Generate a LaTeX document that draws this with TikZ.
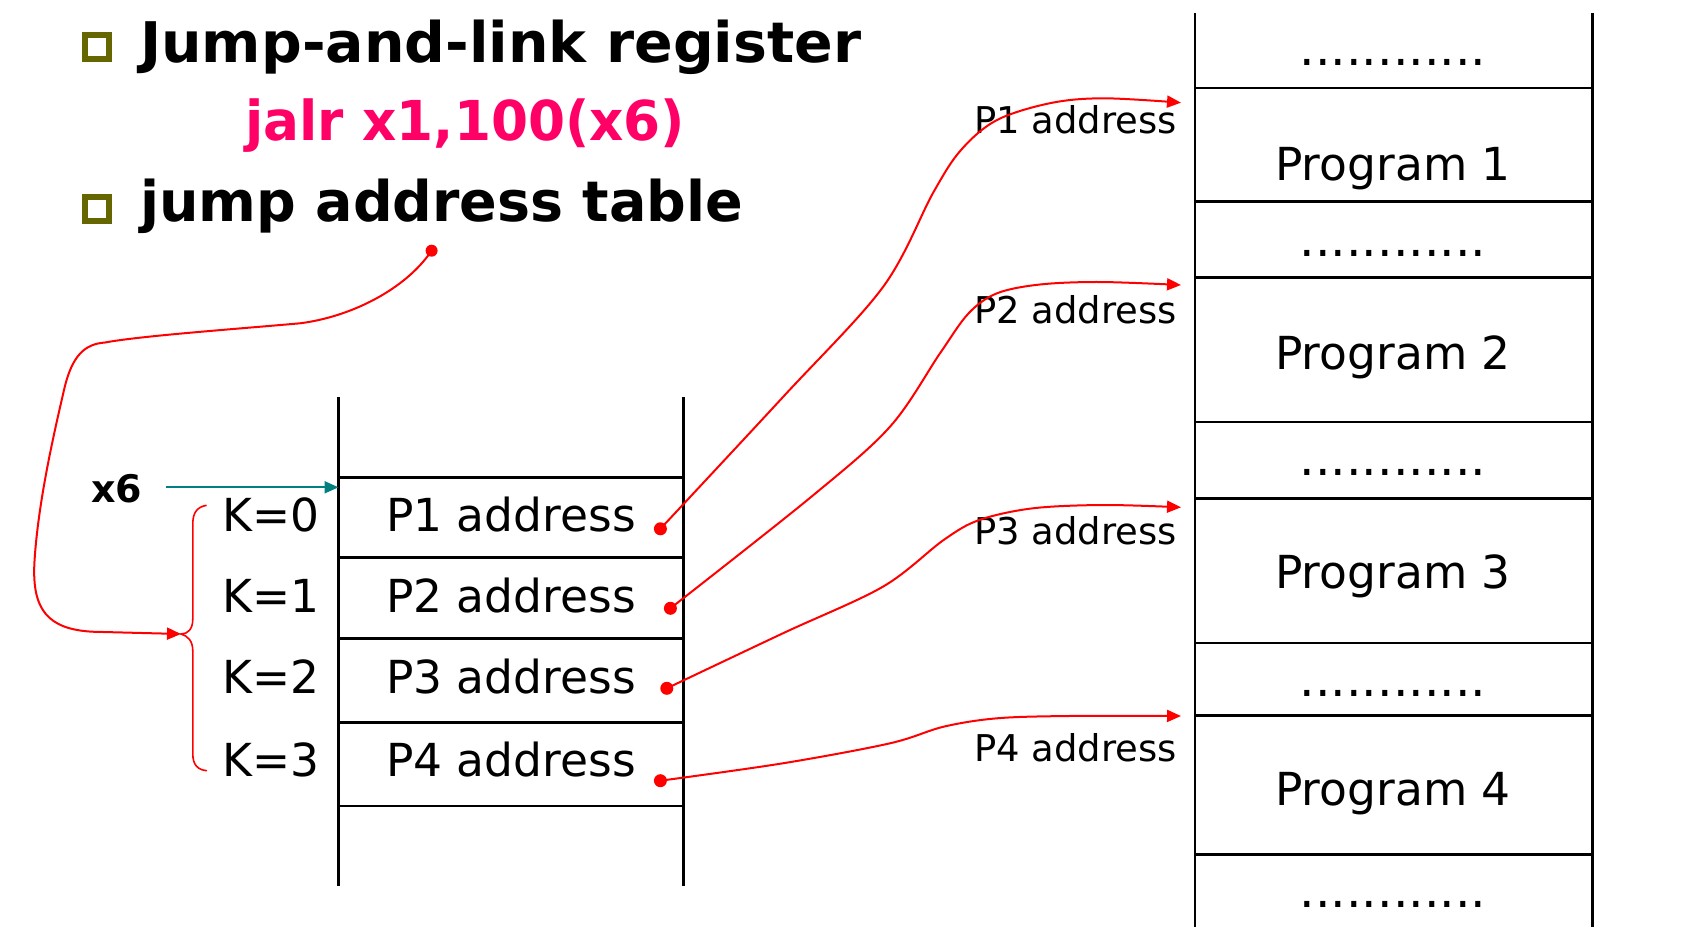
\documentclass[tikz,border=0pt]{standalone}
\usepackage{fontspec}
\setmainfont{DejaVu Sans}
\usepackage{graphicx}
\usetikzlibrary{arrows.meta}
\definecolor{olivebul}{RGB}{102,102,0}
\definecolor{pinkcmd}{RGB}{255,0,102}
\definecolor{tealarr}{RGB}{0,128,128}
\newcommand\fitw[2]{\resizebox{#1pt}{\height}{#2}}
\begin{document}
\begin{tikzpicture}[x=1pt,y=-1pt,
  lbl/.style={font=\fontsize{45.5}{50}\selectfont, inner sep=0, anchor=base},
  side/.style={font=\fontsize{36.9}{40}\selectfont, inner sep=0, anchor=base east},
  dotrow/.style={font=\fontsize{49}{50}\selectfont, inner sep=0, anchor=base},
  head/.style={font=\fontsize{56}{60}\selectfont\bfseries, inner sep=0, anchor=base west},
  rline/.style={red, line width=2pt},
  rarr/.style={rline, -{Triangle[length=14pt,width=12pt]}},
  blk/.style={line width=2.6pt},
  rdot/.style={circle, fill=red, inner sep=0, minimum size=13pt},
  bullet/.style={draw=olivebul, line width=6pt, fill=white, minimum size=24pt, inner sep=0},
]
\useasboundingbox (0,0) rectangle (1700,934);

% bullets and headings
\node[bullet] (b1) at (96.7,46.7) {};
\node[bullet] (b2) at (96.7,209.3) {};
\node[head] (h1) at (140,62.7) {\fitw{721}{Jump-and-link register}};
\node[head, text=pinkcmd, font=\fontsize{55}{60}\selectfont\bfseries] (h2) at (245,140.5) {\fitw{440}{jalr x1,100(x6)}};
\node[head] (h3) at (140,221.7) {\fitw{603}{jump address table}};

% left table
\draw[blk] (338.5,397) -- (338.5,886);
\draw[blk] (683.5,397) -- (683.5,886);
\foreach \yy in {477.3,557.7,638.5,722.3,806} \draw[blk] (338.5,\yy) -- (683.5,\yy);

\node[lbl] (k0) at (271,531.7) {K=0};
\node[lbl] (k1) at (271,612.7) {K=1};
\node[lbl] (k2) at (271,693.3) {K=2};
\node[lbl] (k3) at (271,776.7) {K=3};
\node[lbl] (a1) at (511,531.7) {P1 address};
\node[lbl] (a2) at (511,612.7) {P2 address};
\node[lbl] (a3) at (511,693.3) {P3 address};
\node[lbl] (a4) at (511,776.7) {P4 address};

% x6 register pointer
\node[font=\fontsize{38}{40}\selectfont\bfseries, inner sep=0, anchor=base west] (x6) at (91,502) {x6};
\coordinate (x6s) at (166,487.3);
\coordinate (x6t) at (338.5,487.3);
\draw[tealarr, line width=2pt, -{Triangle[length=14pt,width=12pt]}] (x6s) -- (x6t);

% right column
\draw[blk] (1194.8,13) -- (1194.8,927);
\draw[blk] (1592.7,13) -- (1592.7,927);
\foreach \yy in {87.8,201.7,277.6,421.8,498.7,643,715.6,854.3} \draw[blk] (1194.8,\yy) -- (1592.7,\yy);

\node[dotrow] (r0) at (1393,66) {............};
\node[dotrow] (r1) at (1393,256) {............};
\node[dotrow] (r2) at (1393,475.5) {............};
\node[dotrow] (r3) at (1393,696) {............};
\node[dotrow] (r4) at (1393,907) {............};
\node[lbl] (p1) at (1393,180) {Program 1};
\node[lbl] (p2) at (1393,369) {Program 2};
\node[lbl] (p3) at (1393,588.8) {Program 3};
\node[lbl] (p4) at (1393,805.8) {Program 4};

\node[side] (s1) at (1177,133.3) {P1 address};
\node[side] (s2) at (1177,323) {P2 address};
\node[side] (s3) at (1177,544.6) {P3 address};
\node[side] (s4) at (1177,761.2) {P4 address};

% red dots
\node[rdot, minimum size=12pt] (d0) at (431.6,250.7) {};
\node[rdot] (d1) at (660.4,528.8) {};
\node[rdot] (d2) at (670.4,608.3) {};
\node[rdot] (d3) at (666.8,688.3) {};
\node[rdot] (d4) at (660.4,780.7) {};

\coordinate (t1) at (1181,102.7);
\coordinate (t2) at (1181,285);
\coordinate (t3) at (1181,507.3);
\coordinate (t4) at (1181,716);
\coordinate (bt) at (181,634);

% brace
\draw[rline, line width=1.6pt] (206.6,505.3) .. controls (196,507) and (192.8,514) .. (192.8,524)
  -- (192.8,619) .. controls (192.8,629) and (188,634) .. (bt)
  .. controls (188,636) and (192.8,641) .. (192.8,651)
  -- (192.8,754) .. controls (192.8,765) and (198,770) .. (207,770.7);

% red connectors
\draw[rarr] (d0.center) .. controls (405,290) and (350,317) .. (300,323.3)
  .. controls (230,329.5) and (140,336) .. (105,342.5)
  .. controls (85,344) and (72,355) .. (64,390)
  .. controls (56,425) and (38,500) .. (34.4,563)
  .. controls (32,610) and (48,629) .. (91.8,631.7) -- (bt);
\draw[rarr] plot[smooth, tension=0.55] coordinates {(d1.center) (783,397) (883,287) (933,193) (961,150) (997,120) (1051,103) (1104,98.3) (t1)};
\draw[rarr] plot[smooth, tension=0.55] coordinates {(d2.center) (811.4,496.7) (890,426.7) (940,353.3) (968.6,313.3) (997,293.3) (1040,284.5) (1100,282) (t2)};
\draw[rarr] plot[smooth, tension=0.55] coordinates {(d3.center) (782.9,633.3) (882.9,586.7) (943.6,540) (979.3,520) (1032.9,508.3) (1104,505) (t3)};
\draw[rarr] plot[smooth, tension=0.55] coordinates {(d4.center) (782.9,763.3) (890,743.3) (943.6,726.7) (997,718.3) (1068.6,716) (t4)};
\end{tikzpicture}
\end{document}
